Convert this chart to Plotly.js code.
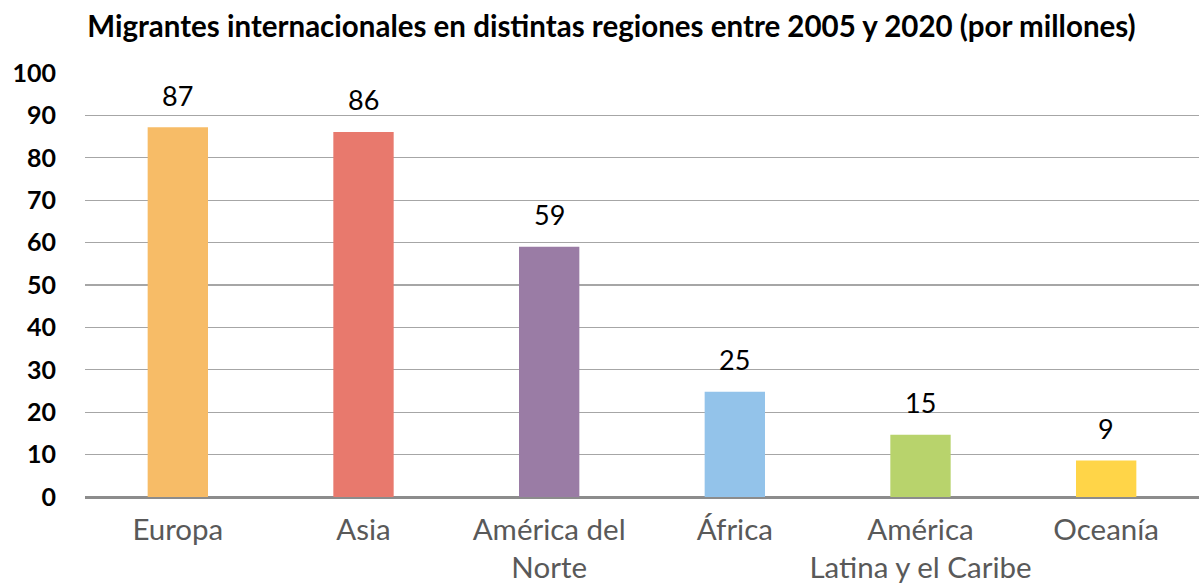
<!DOCTYPE html>
<html><head><meta charset="utf-8">
<script src="https://cdn.plot.ly/plotly-3.0.1.min.js"></script>
<style>html,body{margin:0;padding:0;background:#fff}#chart{width:1199px;height:585px}</style>
</head><body><div id="chart"></div>
<script>
const categories = ["Europa", "Asia", "América del<br>Norte", "África", "América<br>Latina y el Caribe", "Oceanía"];
const values = [87.2, 86.1, 59, 24.8, 14.7, 8.6];
const labels = ["87", "86", "59", "25", "15", "9"];
const colors = ["#F7BC67", "#E8796D", "#9A7CA5", "#93C3EA", "#B8D36C", "#FFD548"];
const yTicks = [0, 10, 20, 30, 40, 50, 60, 70, 80, 90, 100];

const trace = {
  type: "bar",
  x: categories,
  y: values,
  marker: {color: colors},
  width: 0.325,
  hoverinfo: "none"
};

const annotations = categories.map((c, i) => ({
  x: c, y: values[i], xref: "x", yref: "y",
  text: labels[i], showarrow: false,
  yshift: 32, yanchor: "middle",
  font: {family: "Lato, sans-serif", size: 27, color: "#000"}
}));

const layout = {
  width: 1199, height: 585,
  margin: {l: 85, r: 0, t: 73, b: 88},
  paper_bgcolor: "#fff", plot_bgcolor: "#fff",
  title: {text: "<b>Migrantes internacionales en distintas regiones entre 2005 y 2020 (por millones)</b>",
          font: {family: "Lato, sans-serif", size: 29.5, color: "#000"},
          x: 0.51, xanchor: "center", y: 0.955, yanchor: "middle"},
  xaxis: {
    tickfont: {family: "Lato, sans-serif", size: 29.5, color: "#595959"},
    showgrid: false, zeroline: false, showline: false, ticks: "",
    ticklabelstandoff: 12
  },
  yaxis: {
    range: [0, 100], tickvals: yTicks, ticktext: yTicks.map(String),
    tickfont: {family: "Lato, sans-serif", size: 25, color: "#000", weight: "bold"},
    showgrid: true, gridcolor: "#A6A6A6", gridwidth: 1.3,
    zeroline: true, zerolinecolor: "#8C8C8C", zerolinewidth: 3,
    showline: false, ticks: "", ticklabelstandoff: 28
  },
  annotations: annotations,
  showlegend: false,
  bargap: 0.675
};
Plotly.newPlot("chart", [trace], layout, {staticPlot: true, displayModeBar: false});
</script></body></html>
